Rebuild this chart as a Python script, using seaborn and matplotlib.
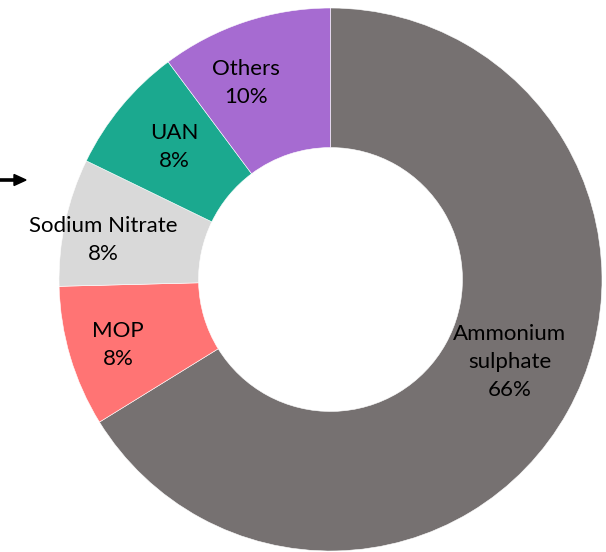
import numpy as np
import matplotlib
matplotlib.use("Agg")
import matplotlib.pyplot as plt
import seaborn as sns

categories = ["Ammonium\nsulphate", "MOP", "Sodium Nitrate", "UAN", "Others"]
shares = [66.2, 8.4, 7.6, 7.6, 10.2]
colors = ["#767171", "#FF7474", "#D9D9D9", "#1BA98F", "#A66BD1"]

sns.set_theme(style="white")
plt.rcParams["font.family"] = ["Lato", "DejaVu Sans"]

fig = plt.figure(figsize=(6.06, 5.52), dpi=100)
cx, cy, R = 330.5, 279.5, 271.5
ax = fig.add_axes([(cx - R) / 606, (552 - cy - R) / 552, 2 * R / 606, 2 * R / 552])
wedges, _ = ax.pie(shares, colors=colors, startangle=90, counterclock=False,
                   radius=1.0, wedgeprops=dict(width=0.514, edgecolor="white", linewidth=0.4))
ax.set_xlim(-1, 1)
ax.set_ylim(-1, 1)
ax.set_aspect("equal")
ax.axis("off")

# label placement (radius fraction, angle tweak in degrees)
rfac = [0.727, 0.819, 0.85, 0.756, 0.789]
dang = [4.5, 0.5, 2.4, -0.7, 4.9]
for w, cat, val, rf, da in zip(wedges, categories, shares, rfac, dang):
    ang = np.deg2rad((w.theta1 + w.theta2) / 2 + da)
    x, y = rf * np.cos(ang), rf * np.sin(ang)
    ax.text(x, y, f"{cat}\n{val:.0f}%", ha="center", va="center", fontsize=16,
            color="black", linespacing=1.5)

fig.patches.append(matplotlib.patches.FancyArrow(
    0.0, 1 - 180 / 552, 26 / 606, 0, width=2.2 / 552, head_width=11 / 552, head_length=12 / 606,
    length_includes_head=True, color="black", transform=fig.transFigure))

fig.savefig("out.png", dpi=100)
